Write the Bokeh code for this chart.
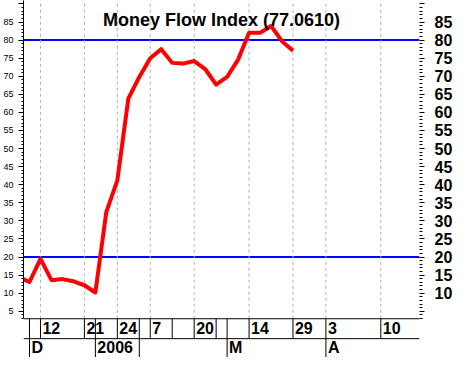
from bokeh.plotting import figure
from bokeh.models import Range1d, LinearAxis, FixedTicker, Label, Span, LabelSet, ColumnDataSource
from bokeh.core.properties import value
from bokeh.embed import file_html
from bokeh.resources import INLINE

# ---------------- data ----------------
# bar index (weekly periods) and Money Flow Index values
mfi_index = list(range(-1, 25))
mfi_values = [14.5, 13.1, 19.5, 13.6, 13.9, 13.3, 12.2, 10.2, 32.5, 41.2,
              63.8, 69.8, 75.0, 77.5, 73.7, 73.5, 74.2, 72.0, 67.7, 69.8,
              74.6, 82.0, 82.0, 83.9, 79.7, 77.061]

overbought = 80
oversold = 20

# date axis: labelled day boxes, extra (unlabelled) day box edges, month boxes
day_pos = [1, 5, 8, 11, 15, 20, 24, 27, 32]
day_labels = ["12", "21", "24", "7", "20", "14", "29", "3", "10"]
day_extra_edges = [0, 6, 10, 13, 17, 18]
month_pos = [0, 6, 18, 27]
month_labels = ["D", "2006", "M", "A"]
month_edges = [0, 6, 10, 18, 27]

major_ticks = list(range(5, 91, 5))
minor_ticks = [v for v in range(3, 91) if v % 5]

# ---------------- layout ----------------
X0, X1 = -0.547, 35.525
Y0, Y1 = -7.78, 90.95
PLOT_BOTTOM = 2.94      # bottom of the indicator panel
ROW_SPLIT = -2.57       # between day row and month row
DAY_BASE = -1.35
MONTH_BASE = -6.4
FONT = "Liberation Sans"

p = figure(width=456, height=357, output_backend="svg", toolbar_location=None,
           x_axis_type=None, y_axis_type=None,
           x_range=Range1d(X0, X1), y_range=Range1d(Y0, Y1),
           min_border_left=23, min_border_right=37,
           min_border_top=0, min_border_bottom=0)
p.outline_line_color = None
p.background_fill_color = "white"
p.border_fill_color = "white"

# axes
left = LinearAxis(ticker=FixedTicker(ticks=major_ticks, minor_ticks=minor_ticks),
                  bounds=(PLOT_BOTTOM, Y1))
left.major_label_overrides = {90: ""}
left.major_label_text_font = FONT
left.major_label_text_font_size = "9px"
left.major_label_text_color = "black"
left.major_tick_out = 5
left.major_tick_in = 0
left.minor_tick_out = 2
left.minor_tick_in = 0
left.major_label_standoff = 5
left.axis_line_color = "black"
left.major_tick_line_color = "black"
left.minor_tick_line_color = "black"
p.add_layout(left, "left")

right = LinearAxis(ticker=FixedTicker(ticks=major_ticks, minor_ticks=minor_ticks),
                   bounds=(PLOT_BOTTOM, Y1))
right.major_label_overrides = {90: "", 5: ""}
right.major_label_text_font = FONT
right.major_label_text_font_size = "16px"
right.major_label_text_font_style = "bold"
right.major_label_text_color = "black"
right.major_tick_out = 5
right.major_tick_in = 0
right.minor_tick_out = 3
right.minor_tick_in = 0
right.major_label_standoff = 10
right.axis_line_color = None
right.major_tick_line_color = "black"
right.minor_tick_line_color = "black"
p.add_layout(right, "right")

# dashed vertical grid lines at labelled dates
p.segment(x0=day_pos, y0=PLOT_BOTTOM, x1=day_pos, y1=Y1,
          line_color="#b0b0b0", line_width=1, line_dash="3 3")

# overbought / oversold levels
for lvl in (overbought, oversold):
    p.add_layout(Span(location=lvl, dimension="width", line_color="#0000FF",
                      line_width=2, level="underlay"))

# MFI line
p.line(mfi_index, mfi_values, line_color="#FF0000", line_width=4,
       line_join="round")

# date rows
p.add_layout(Span(location=PLOT_BOTTOM, dimension="width", line_color="black", line_width=1))
p.add_layout(Span(location=ROW_SPLIT, dimension="width", line_color="black", line_width=1))
day_edges = sorted(set(day_pos + day_extra_edges))
p.segment(x0=day_edges, y0=ROW_SPLIT, x1=day_edges, y1=PLOT_BOTTOM,
          line_color="black", line_width=1)
p.segment(x0=month_edges, y0=Y0, x1=month_edges, y1=ROW_SPLIT,
          line_color="black", line_width=1)

day_src = ColumnDataSource(dict(x=day_pos, y=[DAY_BASE] * len(day_pos), t=day_labels))
month_src = ColumnDataSource(dict(x=month_pos, y=[MONTH_BASE] * len(month_pos), t=month_labels))
for src in (day_src, month_src):
    p.add_layout(LabelSet(source=src, x="x", y="y", text="t", x_offset=2,
                          text_font=value(FONT), text_font_style="bold",
                          text_font_size="16px", text_align="left",
                          text_baseline="alphabetic", text_color="black"))

# title inside the panel
p.add_layout(Label(x=(X0 + X1) / 2, y=85.65,
                   text=f"Money Flow Index ({mfi_values[-1]:.4f})",
                   text_font=FONT, text_font_style="bold", text_font_size="18px",
                   text_align="center", text_baseline="alphabetic",
                   text_color="black"))

open("out.html", "w").write(file_html(p, INLINE))
